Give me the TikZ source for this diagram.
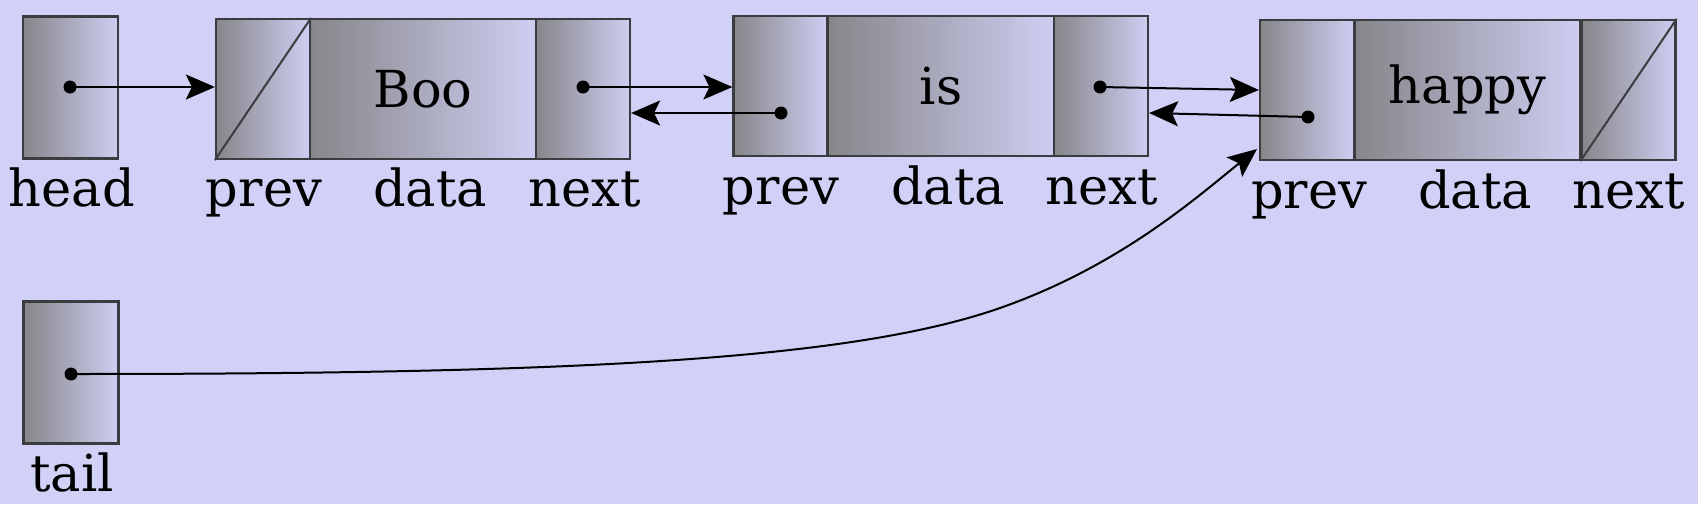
\documentclass[tikz,border=0pt]{standalone}
\usepackage{fontspec}
\setmainfont{DejaVu Serif}
\usetikzlibrary{arrows.meta,calc}
\definecolor{bg}{RGB}{209,209,248}
\definecolor{shadeL}{RGB}{134,134,138}
\definecolor{shadeR}{RGB}{206,206,242}
\definecolor{edge}{RGB}{60,60,64}
\tikzset{
  cell/.style={draw=edge, line width=2.2pt, rectangle, inner sep=0pt,
    minimum height=140pt, left color=shadeL, right color=shadeR,
    font=\fontsize{51}{60}\selectfont},
  ptrcell/.style={minimum width=94pt},
  datcell/.style={minimum width=226pt},
  varcell/.style={minimum width=95pt, minimum height=142pt},
  lbl/.style={anchor=base, inner sep=0pt, font=\fontsize{51}{60}\selectfont},
  link/.style={draw=black, line width=2pt, -{Stealth[length=29pt,width=25pt,inset=6pt]}},
  nullline/.style={draw=edge, line width=2pt},
  dotfill/.style={fill=black},
}
\begin{document}
\begin{tikzpicture}[x=1pt,y=-1pt]
\fill[bg] (0,0) rectangle (1698,504);
\useasboundingbox (0,0) rectangle (1698,504);

% variables
\node[cell,varcell] (head) at (70.5,87.5) {};
\node[cell,varcell] (tail) at (71,372.5) {};

% node 1
\node[cell,ptrcell] (n1p) at (263,89) {};
\node[cell,datcell] (n1d) at (423,89) {Boo};
\node[cell,ptrcell] (n1n) at (583,89) {};
% node 2
\node[cell,ptrcell] (n2p) at (780.5,86) {};
\node[cell,datcell] (n2d) at (941,86) {is};
\node[cell,ptrcell] (n2n) at (1101,86) {};
% node 3
\node[cell,ptrcell] (n3p) at (1307,90) {};
\node[cell,datcell] (n3d) at (1467.5,90) {happy};
\node[cell,ptrcell] (n3n) at (1628.5,90) {};

% null pointers
\draw[nullline] (n1p.south west) -- (n1p.north east);
\draw[nullline] (n3n.south west) -- (n3n.north east);

% labels
\node[lbl] (lhead) at (72,206) {head};
\node[lbl] (ltail) at (72,491) {tail};
\node[lbl] (l1p) at (264,206) {prev};
\node[lbl] (l1d) at (430,206) {data};
\node[lbl] (l1n) at (585,206) {next};
\node[lbl] (l2p) at (781,204) {prev};
\node[lbl] (l2d) at (948,204) {data};
\node[lbl] (l2n) at (1102,204) {next};
\node[lbl] (l3p) at (1309,208) {prev};
\node[lbl] (l3d) at (1475,208) {data};
\node[lbl] (l3n) at (1629,208) {next};

% pointer origins
\coordinate (hd) at (70,87);
\coordinate (d1n) at (583,87);
\coordinate (d2p) at (781,113);
\coordinate (d2n) at (1100,87);
\coordinate (d3p) at (1308,117);
\coordinate (td) at (71,374);
\coordinate (tm) at (1000,308);
\coordinate (te) at (1257,149);

% links
\draw[link] (hd) -- (hd -| n1p.west);
\draw[link] (d1n) -- (d1n -| n2p.west);
\draw[link] (d2p) -- (d2p -| n1n.east);
\draw[link] (d2n) -- (n3p.west);
\draw[link] (d3p) -- ([yshift=-27pt]n2n.east);
\draw[link] (td) .. controls (570,374) and (850,360.5) .. (tm) .. controls (1120,266) and (1197,197) .. (te);

% dots
\foreach \d in {hd,d1n,d2p,d2n,d3p,td} \fill[dotfill] (\d) circle (6.5pt);
\end{tikzpicture}
\end{document}
